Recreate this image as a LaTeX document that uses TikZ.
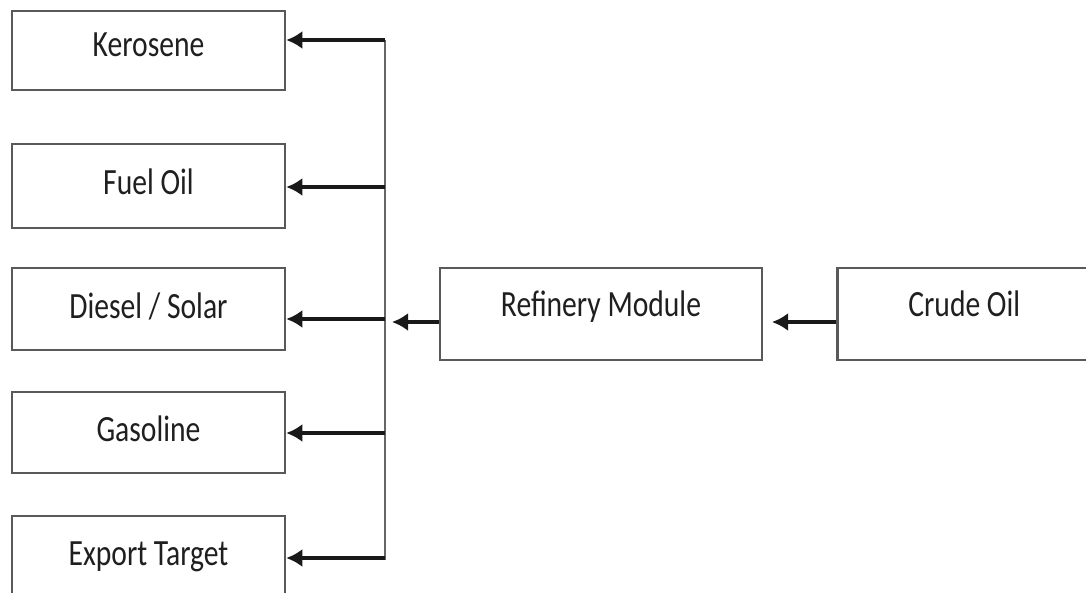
\documentclass[tikz,border=0pt]{standalone}
\usepackage{fontspec}
\newfontfamily\labfont[FakeStretch=0.8]{Carlito}
\usetikzlibrary{arrows.meta}
\begin{document}
\begin{tikzpicture}[x=1pt,y=-1pt,
  box/.style={draw=black!65, line width=2.5pt, fill=white, inner sep=0pt,
    font=\labfont\fontsize{37}{40}\selectfont, text=black!88, text height=23.5pt},
  arr/.style={draw=black!90, line width=3.5pt, -{Latex[length=16pt,width=18pt]}},
  bus/.style={draw=black!60, line width=2.5pt}]
\clip (0,0) rectangle (1086,592);
\fill[white] (0,0) rectangle (1086,592);
% output boxes
\node[box, minimum width=273pt, minimum height=79pt, text depth=12pt] (ker) at (148.5,50.5) {Kerosene};
\node[box, minimum width=273pt, minimum height=84pt, text depth=6pt] (fuel) at (148.5,186) {Fuel Oil};
\node[box, minimum width=273pt, minimum height=82pt, text depth=4pt] (dies) at (148.5,309) {Diesel / Solar};
\node[box, minimum width=273pt, minimum height=81pt, text depth=6pt] (gas) at (148.5,432.5) {Gasoline};
\node[box, minimum width=273pt, minimum height=82pt, text depth=6pt] (exp) at (148.5,557) {Export Target};
% process boxes
\node[box, minimum width=322pt, minimum height=92pt, text depth=18pt] (ref) at (601,314) {Refinery Module};
\node[box, minimum width=254pt, minimum height=92pt, text depth=18pt, anchor=west] (crude) at (836,314) {Crude Oil};
% bus
\coordinate (jk) at (385,40);
\coordinate (jf) at (385,187);
\coordinate (jd) at (385,319);
\coordinate (jg) at (385,433);
\coordinate (je) at (385,558);
\coordinate (jin) at (392,322);
\coordinate (rin) at (772,322);
\draw[bus] (jk) -- (385,560);
\draw[arr] (jk) -- (jk -| ker.east);
\draw[arr] (jf) -- (jf -| fuel.east);
\draw[arr] (jd) -- (jd -| dies.east);
\draw[arr] (jg) -- (jg -| gas.east);
\draw[arr] (je) -- (je -| exp.east);
\draw[arr] (jin -| ref.west) -- (jin);
\draw[arr] (rin -| crude.west) -- (rin);
\end{tikzpicture}
\end{document}
